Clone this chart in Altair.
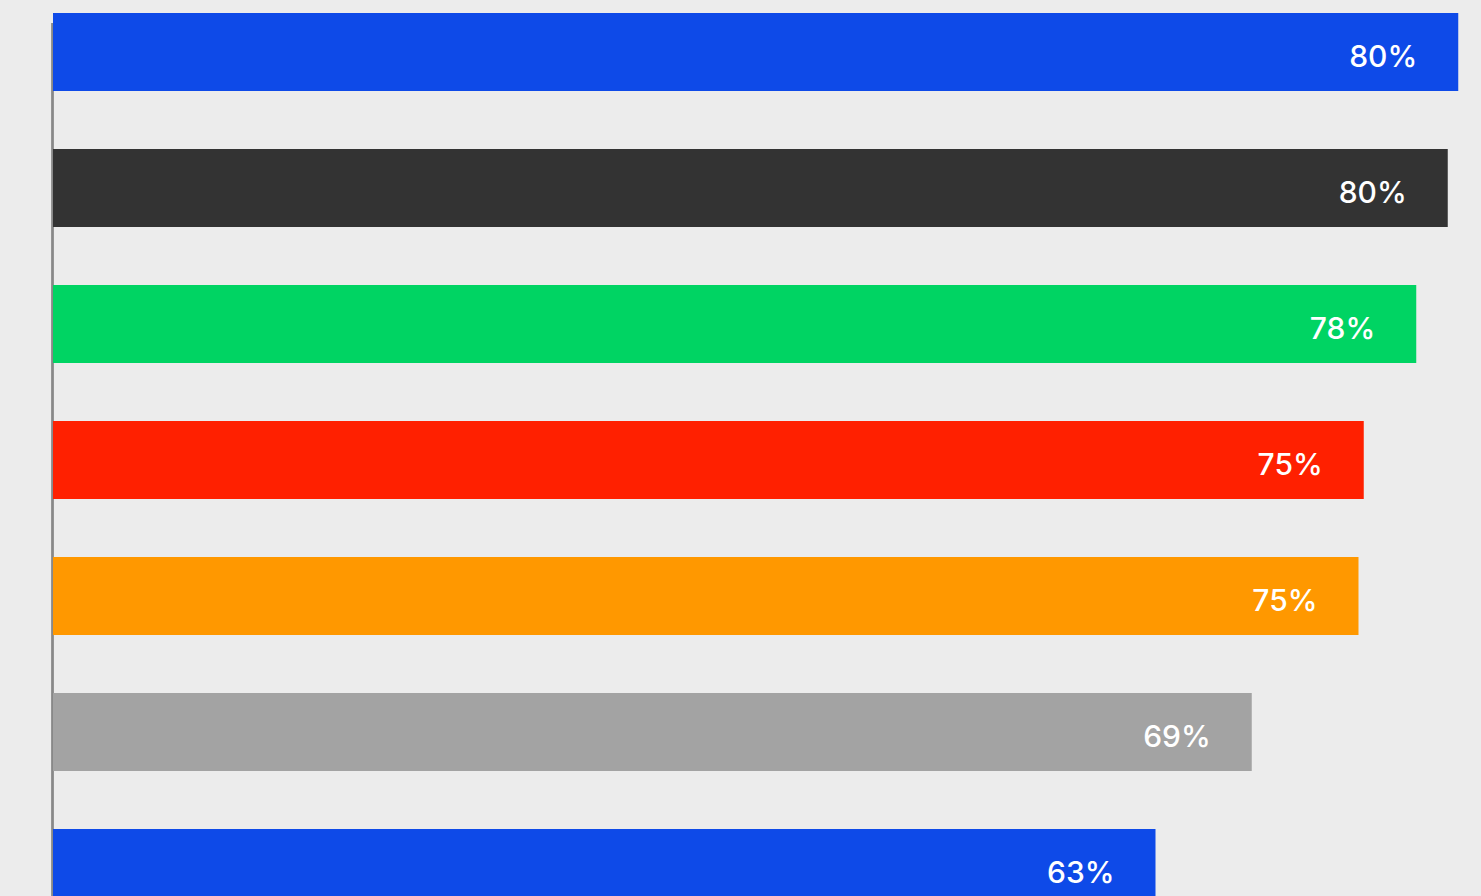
import altair as alt
import pandas as pd

categories = ["A", "B", "C", "D", "E", "F", "G"]
values = [80.3, 79.7, 77.9, 74.9, 74.6, 68.5, 63.0]
labels = ["80%", "80%", "78%", "75%", "75%", "69%", "63%"]
colors = ["#0e4ae8", "#333333", "#00d463", "#ff2000", "#ff9800", "#a3a3a3", "#0e4ae8"]

df = pd.DataFrame({"cat": categories, "value": values, "label": labels, "color": colors})

y_scale = alt.Scale(domain=categories, range=[13, 907], paddingInner=0.4265, paddingOuter=0)
x_scale = alt.Scale(domain=[0, 81.6], nice=False, zero=True)

bars = alt.Chart(df).mark_bar(clip=True).encode(
    y=alt.Y("cat:N", scale=y_scale, axis=None),
    x=alt.X("value:Q", scale=x_scale, axis=None),
    color=alt.Color("color:N", scale=None),
)

text = alt.Chart(df).mark_text(
    align="right", baseline="middle", dx=-41, dy=6,
    font="Inter", fontSize=30, fontWeight=500, color="white",
).encode(
    y=alt.Y("cat:N", scale=y_scale, axis=None),
    x=alt.X("value:Q", scale=x_scale, axis=None),
    text="label:N",
)

axis_line = alt.Chart(df).mark_rule(color="#888888", strokeWidth=1.5).encode(
    x=alt.value(-0.5), y=alt.value(23), y2=alt.value(896)
)

chart = alt.layer(axis_line, bars, text).properties(
    width=1428, height=896,
    background="#ececec",
    padding={"left": 53, "top": 0, "right": 0, "bottom": 0},
    autosize=alt.AutoSizeParams(type="none"),
).configure_view(stroke=None)

chart.save("out.html", embed_options={"renderer": "svg", "actions": False})
